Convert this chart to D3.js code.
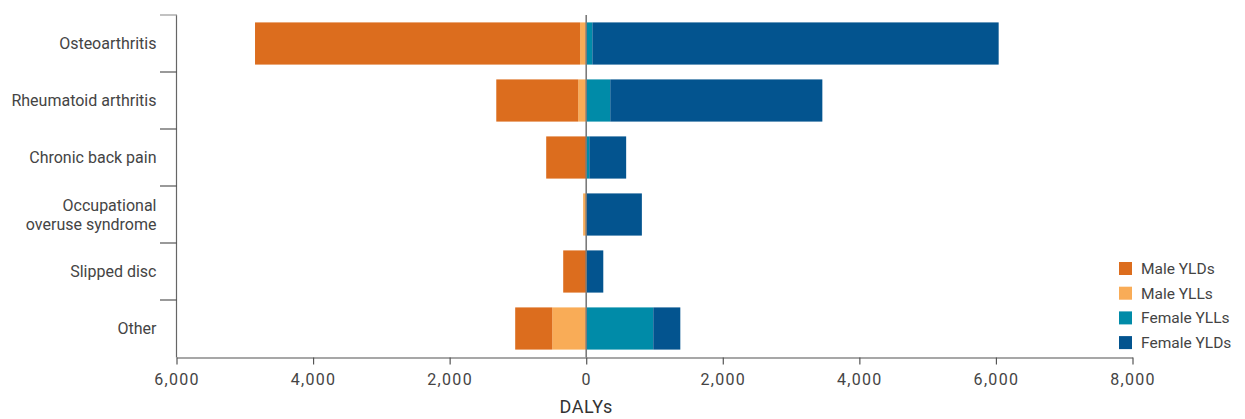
<!DOCTYPE html>
<html>
<head>
<meta charset="utf-8">
<script src="https://cdn.jsdelivr.net/npm/d3@7"></script>
<style>
  body { margin: 0; background: #fff; }
  svg { display: block; font-family: Roboto, "Noto Sans", sans-serif; }
</style>
</head>
<body>
<svg id="chart" width="1245" height="419"></svg>
<script>
// Musculoskeletal conditions: DALYs split by sex into YLDs and YLLs
const categories = [
  "Osteoarthritis",
  "Rheumatoid arthritis",
  "Chronic back pain",
  "Occupational overuse syndrome",
  "Slipped disc",
  "Other"
];
const maleYLDs   = [4760, 1200, 586, 0, 337, 542];
const maleYLLs   = [90, 117, 0, 45, 0, 498];
const femaleYLLs = [90, 352, 45, 0, 0, 982];
const femaleYLDs = [5950, 3106, 540, 815, 250, 396];
const xTicks = [-6000, -4000, -2000, 0, 2000, 4000, 6000, 8000];
const seriesNames = ["Male YLDs", "Male YLLs", "Female YLLs", "Female YLDs"];
const colors = {
  "Male YLDs": "#dc6d1e",
  "Male YLLs": "#f9ac57",
  "Female YLLs": "#008ba8",
  "Female YLDs": "#03548f"
};

const svg = d3.select("#chart");
const x = d3.scaleLinear().domain([-6000, 8000]).range([176.5, 1132.5]);
const y = d3.scaleBand().domain(categories).range([15, 357])
  .paddingInner(0.26).paddingOuter(0.13);

// Build segments: YLLs sit next to zero, YLDs extend outward
const segments = [];
categories.forEach((c, i) => {
  segments.push({ cat: c, s: "Male YLLs", x0: -maleYLLs[i], x1: 0 });
  segments.push({ cat: c, s: "Male YLDs", x0: -maleYLLs[i] - maleYLDs[i], x1: -maleYLLs[i] });
  segments.push({ cat: c, s: "Female YLLs", x0: 0, x1: femaleYLLs[i] });
  segments.push({ cat: c, s: "Female YLDs", x0: femaleYLLs[i], x1: femaleYLLs[i] + femaleYLDs[i] });
});

svg.append("g").selectAll("rect")
  .data(segments.filter(d => d.x1 > d.x0))
  .join("rect")
  .attr("x", d => x(d.x0))
  .attr("width", d => x(d.x1) - x(d.x0))
  .attr("y", d => y(d.cat))
  .attr("height", y.bandwidth())
  .attr("fill", d => colors[d.s]);

// Bottom axis
const xAxis = d3.axisBottom(x)
  .tickValues(xTicks)
  .tickFormat(d => d3.format(",")(Math.abs(d)))
  .tickSize(7)
  .tickSizeOuter(0)
  .tickPadding(9);
const gx = svg.append("g").attr("transform", "translate(0,357.5)").call(xAxis);
gx.select(".domain").attr("stroke", "#8a8a8a").attr("stroke-width", 1.6);
gx.selectAll(".tick line").attr("stroke", "#555").attr("stroke-width", 1.2);
gx.selectAll(".tick text")
  .attr("fill", "#444").attr("font-size", 16).attr("letter-spacing", 1.3)
  .attr("font-family", "Roboto, sans-serif");

svg.append("text")
  .attr("x", x(0)).attr("y", 413)
  .attr("text-anchor", "middle")
  .attr("fill", "#333").attr("font-size", 18).attr("letter-spacing", 0.6)
  .text("DALYs");

// Left axis: vertical line with ticks at category boundaries
const gy = svg.append("g");
gy.append("line")
  .attr("x1", 176.5).attr("x2", 176.5).attr("y1", 15).attr("y2", 357.5)
  .attr("stroke", "#666").attr("stroke-width", 1.2);
const step = y.step();
const bounds = d3.range(categories.length).map(i => 15 + i * step);
gy.selectAll(".bt").data(bounds).join("line")
  .attr("x1", 160).attr("x2", 177)
  .attr("y1", d => d).attr("y2", d => d)
  .attr("stroke", (d, i) => i === 0 ? "#999" : "#555")
  .attr("stroke-width", 1.2);

// Category labels (wrapped where needed)
const labelLines = {
  "Occupational overuse syndrome": ["Occupational", "overuse syndrome"]
};
categories.forEach(c => {
  const lines = labelLines[c] || [c];
  const cy = y(c) + y.bandwidth() / 2;
  const t = svg.append("text")
    .attr("x", 156.5)
    .attr("text-anchor", "end")
    .attr("fill", "#444")
    .attr("font-size", 16);
  lines.forEach((ln, j) => {
    t.append("tspan")
      .attr("x", 156.5)
      .attr("y", cy + (j - (lines.length - 1) / 2) * 19)
      .attr("dy", "0.35em")
      .text(ln);
  });
});

// Zero reference line
svg.append("line")
  .attr("x1", x(0)).attr("x2", x(0)).attr("y1", 15).attr("y2", 357.5)
  .attr("stroke", "#7a7a7a").attr("stroke-width", 1.6);

// Legend
const legend = svg.append("g").attr("transform", "translate(1119,262)");
seriesNames.forEach((s, i) => {
  const g = legend.append("g").attr("transform", `translate(0,${i * 24.7})`);
  g.append("rect").attr("width", 13).attr("height", 13).attr("fill", colors[s]);
  g.append("text").attr("x", 22).attr("y", 6.5).attr("dy", "0.35em")
    .attr("fill", "#444").attr("font-size", 15.5).text(s);
});
</script>
</body>
</html>
